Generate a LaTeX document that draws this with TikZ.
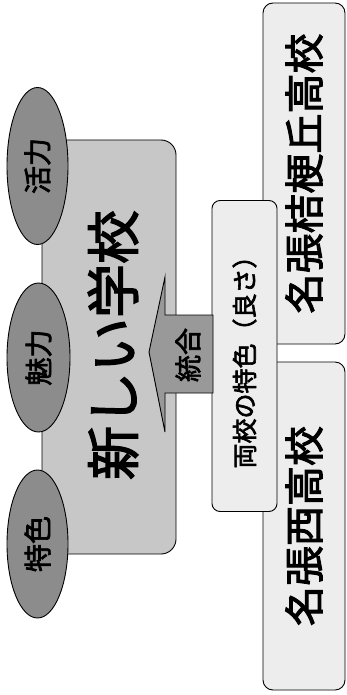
\documentclass[tikz,border=0pt]{standalone}
\usepackage{fontspec}
\setmainfont{Noto Sans CJK JP}[BoldFont={Noto Sans CJK JP},BoldFeatures={FakeBold=2.5}]
\usetikzlibrary{shapes.geometric}
\definecolor{boxgray}{gray}{0.78}
\definecolor{ellgray}{gray}{0.55}
\definecolor{arrgray}{gray}{0.60}
\definecolor{schoolgray}{gray}{0.93}
\begin{document}
\begin{tikzpicture}[x=1pt,y=-1pt,line width=0.9pt,
  rbox/.style={draw=black,rotate=90,inner sep=0pt,align=center},
  oval/.style={ellipse,draw=black,fill=ellgray,rotate=90,inner sep=0pt,
    font=\fontsize{28}{28}\selectfont\bfseries}]
\useasboundingbox (0,0) rectangle (347,695);
% school boxes
\node[rbox,fill=schoolgray,rounded corners=10pt,minimum width=341pt,minimum height=82pt,
  font=\fontsize{40}{40}\selectfont\bfseries] (kikyo) at (304,173.5) {名張桔梗丘高校};
\node[rbox,fill=schoolgray,rounded corners=10pt,minimum width=328pt,minimum height=82pt,
  font=\fontsize{40}{40}\selectfont\bfseries] (nishi) at (304,526) {名張西高校};
% middle box
\node[rbox,fill=schoolgray,rounded corners=8pt,minimum width=311pt,minimum height=65pt,
  font=\fontsize{25}{25}\selectfont\bfseries] (both) at (244.5,356) {両校の特色（良さ）};
% big box
\node[rbox,fill=boxgray,rounded corners=15pt,minimum width=414pt,minimum height=134pt] (new) at (109,347) {};
\node[rotate=90,inner sep=0pt,font=\fontsize{54}{54}\selectfont\bfseries] (newtxt) at (113,345) {新しい学校};
% arrow
\coordinate (a1) at (213,315);
\coordinate (a2) at (165,315);
\coordinate (a3) at (165,277);
\coordinate (tip) at (149,352);
\coordinate (a5) at (165,432);
\coordinate (a6) at (165,393);
\coordinate (a7) at (213,393);
\draw[fill=arrgray] (a1) -- (a2) -- (a3) -- (tip) -- (a5) -- (a6) -- (a7) -- cycle;
\node[rotate=90,inner sep=0pt,font=\fontsize{27}{27}\selectfont\bfseries] (merge) at (188,355) {統合};
% ellipses
\node[oval,minimum width=157pt,minimum height=61pt] (e1) at (37.5,166) {活力};
\node[oval,minimum width=149pt,minimum height=63pt] (e2) at (38.5,357.5) {魅力};
\node[oval,minimum width=148pt,minimum height=61pt] (e3) at (37.5,544) {特色};
\end{tikzpicture}
\end{document}
